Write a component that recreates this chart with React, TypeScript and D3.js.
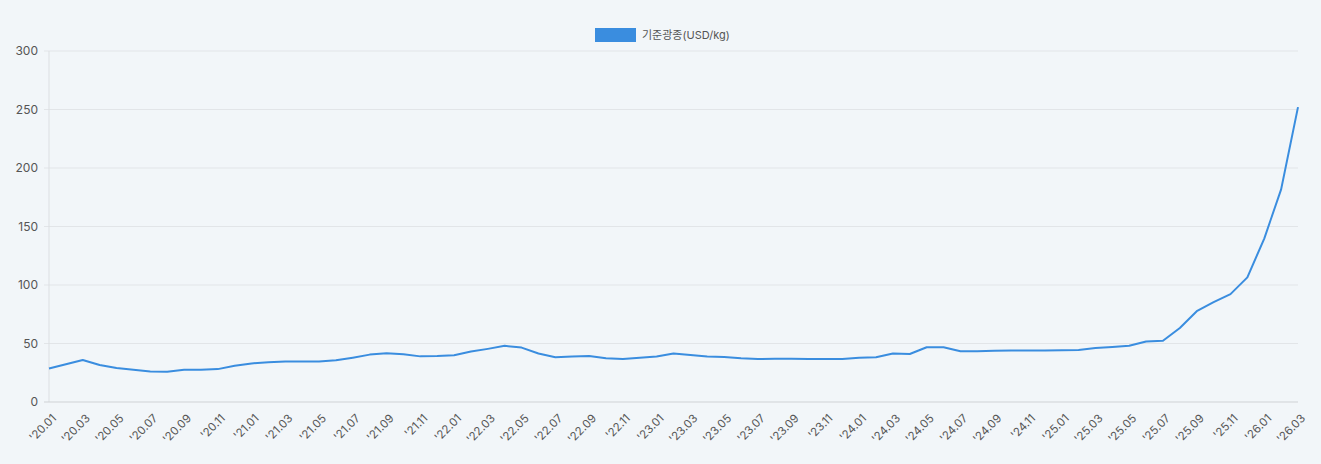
import React, { useEffect, useRef } from "react"
import * as d3 from "d3"

// monthly labels '20.01 .. '26.03
const years = ["20", "21", "22", "23", "24", "25", "26"]
const months = ["01", "02", "03", "04", "05", "06", "07", "08", "09", "10", "11", "12"]
const categories: string[] = years
    .flatMap((y) => months.map((m) => `'${y}.${m}`))
    .slice(0, 75)

// 기준광종 USD/kg
const values: number[] = [
    28.7, 32.2, 35.9, 31.6, 29.0, 27.6, 26.1, 25.8, 27.6, 27.6, 28.1, 31.0,
    33.0, 33.9, 34.7, 34.7, 34.7, 35.6, 37.9, 40.5, 41.6, 40.8, 39.0, 39.3,
    40.0, 43.1, 45.4, 48.0, 46.5, 41.4, 38.2, 38.8, 39.3, 37.3, 36.7, 37.9,
    38.8, 41.4, 40.2, 38.8, 38.5, 37.3, 36.7, 37.0, 37.0, 36.7, 36.7, 36.7,
    37.9, 38.2, 41.4, 41.0, 46.8, 46.8, 43.4, 43.4, 43.7, 44.0, 44.0, 44.0,
    44.3, 44.5, 46.2, 47.0, 48.1, 51.7, 52.3, 63.2, 77.6, 85.3, 92.2, 106.5,
    139.7, 181.7, 252.0,
]

const yTicks = [0, 50, 100, 150, 200, 250, 300]
const seriesName = "기준광종(USD/kg)"

const W = 1321
const H = 464
const margin = { top: 51, right: 23, bottom: 62, left: 49 }
const lineColor = "#3a8ddf"
const font = "Inter, 'Noto Sans CJK KR', sans-serif"

export default function App() {
    const ref = useRef<SVGSVGElement>(null)

    useEffect(() => {
        const svg = d3.select(ref.current)
        svg.selectAll("*").remove()

        const x = d3
            .scalePoint<string>()
            .domain(categories)
            .range([margin.left, W - margin.right])
        const y = d3
            .scaleLinear()
            .domain([0, 300])
            .range([H - margin.bottom, margin.top])

        svg.append("rect").attr("width", W).attr("height", H).attr("fill", "#f2f6f9")

        // grid
        svg.append("g")
            .selectAll("line")
            .data(yTicks.slice(1))
            .enter()
            .append("line")
            .attr("x1", margin.left - 5)
            .attr("x2", W - margin.right)
            .attr("y1", (d) => y(d))
            .attr("y2", (d) => y(d))
            .attr("stroke", "#e2e5e8")
            .attr("stroke-width", 1)

        // y axis line
        svg.append("line")
            .attr("x1", margin.left)
            .attr("x2", margin.left)
            .attr("y1", y(300))
            .attr("y2", y(0))
            .attr("stroke", "#dcdfe2")

        // x axis line
        svg.append("line")
            .attr("x1", margin.left - 5)
            .attr("x2", W - margin.right)
            .attr("y1", y(0))
            .attr("y2", y(0))
            .attr("stroke", "#cfd2d5")

        // y labels
        svg.append("g")
            .selectAll("text")
            .data(yTicks)
            .enter()
            .append("text")
            .attr("x", margin.left - 11)
            .attr("y", (d) => y(d))
            .attr("dy", "0.35em")
            .attr("text-anchor", "end")
            .style("font-family", font)
            .style("font-size", "12px")
            .attr("fill", "#555")
            .text((d) => d)

        // x labels, every second month
        svg.append("g")
            .selectAll("text")
            .data(categories.filter((_, i) => i % 2 === 0))
            .enter()
            .append("text")
            .attr("transform", (d) => `translate(${x(d)! + 8}, ${y(0) + 17}) rotate(-45)`)
            .attr("text-anchor", "end")
            .style("font-family", font)
            .style("font-size", "11.5px")
            .attr("fill", "#555")
            .text((d) => d)

        const line = d3
            .line<number>()
            .x((_, i) => x(categories[i])!)
            .y((d) => y(d))

        svg.append("path")
            .datum(values)
            .attr("d", line)
            .attr("fill", "none")
            .attr("stroke", lineColor)
            .attr("stroke-width", 2)
            .attr("stroke-linejoin", "round")

        // legend
        const legend = svg.append("g").attr("transform", `translate(595, 28)`)
        legend.append("rect").attr("width", 41).attr("height", 14).attr("fill", lineColor)
        legend
            .append("text")
            .attr("x", 47)
            .attr("y", 7)
            .attr("dy", "0.35em")
            .style("font-family", font)
            .style("font-size", "11px")
            .attr("fill", "#555")
            .text(seriesName)
    }, [])

    return (
        <div style={{ position: "fixed", left: 0, top: 0, width: W, height: H, background: "#f2f6f9" }}>
            <svg ref={ref} width={W} height={H} style={{ display: "block" }} />
        </div>
    )
}
